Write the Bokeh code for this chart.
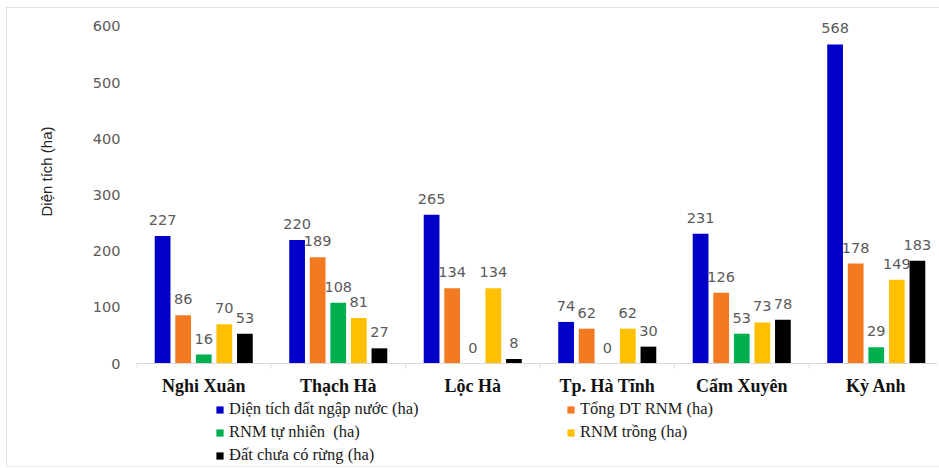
import numpy as np
from bokeh.plotting import figure
from bokeh.models import (ColumnDataSource, Range1d, FixedTicker, Legend,
                          LegendItem, LabelSet, Span, Title)
from bokeh.core.properties import value
from bokeh.transform import dodge
from bokeh.embed import file_html
from bokeh.resources import INLINE

# Districts of Ha Tinh province
districts = ["Nghi Xuân", "Thạch Hà", "Lộc Hà", "Tp. Hà Tĩnh", "Cẩm Xuyên", "Kỳ Anh"]

# Area figures (ha) per district
wetland_area = [227, 220, 265, 74, 231, 568]
mangrove_total = [86, 189, 134, 62, 126, 178]
mangrove_natural = [16, 108, 0, 0, 53, 29]
mangrove_planted = [70, 81, 134, 62, 73, 149]
land_without_forest = [53, 27, 8, 30, 78, 183]

series_labels = [
    "Diện tích đất ngập nước (ha)",
    "Tổng DT RNM (ha)",
    "RNM tự nhiên  (ha)",
    "RNM trồng (ha)",
    "Đất chưa có rừng (ha)",
]
series_values = [wetland_area, mangrove_total, mangrove_natural,
                 mangrove_planted, land_without_forest]
series_colors = ["#0000c8", "#f47a22", "#00b04f", "#ffc000", "#000000"]

y_ticks = [0, 100, 200, 300, 400, 500, 600]

# geometry
WIDTH, HEIGHT = 939, 468
LEFT, RIGHT, TOP = 136, 2, 15
AXIS_Y_PX = 363            # pixel row of the value 0
Y_MAX = 619.5              # value at the top of the plotting area
CAT_PX = 134.5             # pixel width of one district group
BAR_STEP = 0.153           # spacing of bars inside a group (category units)
BAR_WIDTH = 0.117

px_per_unit = (AXIS_Y_PX - TOP) / Y_MAX
y_min = -(HEIGHT - AXIS_Y_PX) / px_per_unit
x_max = (WIDTH - LEFT - RIGHT) / CAT_PX

centers = [i + 0.5 for i in range(len(districts))]
boundaries = [float(i) for i in range(len(districts) + 1)]

p = figure(
    width=WIDTH, height=HEIGHT,
    x_range=Range1d(0, x_max), y_range=Range1d(y_min, Y_MAX),
    output_backend="svg", toolbar_location=None,
    min_border_left=LEFT, min_border_right=RIGHT,
    min_border_top=TOP, min_border_bottom=0,
    x_axis_location=None,
)
p.border_fill_color = None
p.background_fill_color = None
p.outline_line_color = None
p.xgrid.grid_line_color = None
p.ygrid.grid_line_color = None

# faint frame around the whole figure
p.styles = {
    "background": (
        "linear-gradient(#e2e2e2,#e2e2e2) 6px 7px / 1px 460px no-repeat, "
        "linear-gradient(#e2e2e2,#e2e2e2) 6px 7px / 933px 1px no-repeat, "
        "linear-gradient(#ececec,#ececec) 6px 466px / 933px 1px no-repeat, "
        "#ffffff"
    )
}

# category axis: base line, boundary ticks and district names
p.add_layout(Span(location=0, dimension="width", line_color="#d9d9d9", line_width=1))
tick_len = 5 / px_per_unit
p.segment(x0=boundaries, x1=boundaries, y0=[0] * len(boundaries),
          y1=[-tick_len] * len(boundaries), line_color="#d9d9d9", line_width=1)
cat_src = ColumnDataSource(dict(x=centers, y=[0] * len(centers), text=districts))
p.add_layout(LabelSet(
    x="x", y="y", text="text", source=cat_src, y_offset=-28,
    text_align="center", text_baseline="alphabetic",
    text_font=value("Liberation Serif"), text_font_style="bold",
    text_font_size=value("18px"), text_color="#111111",
))

renderers = []
for k, (label, vals, color) in enumerate(zip(series_labels, series_values, series_colors)):
    offset = (k - 2) * BAR_STEP
    src = ColumnDataSource(dict(
        x=centers,
        top=vals,
        text=[str(v) for v in vals],
    ))
    r = p.vbar(x=dodge("x", offset, range=p.x_range), top="top", width=BAR_WIDTH,
               source=src, fill_color=color, line_color=None)
    renderers.append(r)
    p.add_layout(LabelSet(
        x=dodge("x", offset, range=p.x_range), y="top", text="text", source=src,
        y_offset=11, text_align="center", text_baseline="alphabetic",
        text_font=value("DejaVu Sans"), text_font_size=value("14.5px"),
        text_color="#5a5a5a",
    ))

# value axis
ya = p.yaxis[0]
ya.ticker = FixedTicker(ticks=y_ticks)
ya.axis_line_color = None
ya.major_tick_line_color = None
ya.minor_tick_line_color = None
ya.major_tick_out = 0
ya.minor_tick_out = 0
ya.major_label_standoff = 16
ya.major_label_text_font = "DejaVu Sans"
ya.major_label_text_font_size = "14.5px"
ya.major_label_text_color = "#5a5a5a"

# axis title, positioned along the value scale
y_title = Title(
    text="Diện tích (ha)", align="left", offset=HEIGHT - 216, standoff=69,
    text_font="Liberation Sans", text_font_style="normal",
    text_font_size="15px", text_color="#222222",
)
p.add_layout(y_title, "left")

# legend in two columns under the chart
def make_legend(idx, loc):
    lg = Legend(
        items=[LegendItem(label=series_labels[i], renderers=[renderers[i]]) for i in idx],
        location=loc, orientation="vertical",
        glyph_width=9, glyph_height=9, label_standoff=5,
        label_height=20, spacing=3, padding=0, margin=0,
        border_line_color=None, background_fill_color=None, background_fill_alpha=0,
        label_text_font="Liberation Serif", label_text_font_size="16.5px",
        label_text_color="#1a1a1a",
    )
    p.add_layout(lg, "center")
    return lg

make_legend([0, 2, 4], (215 - LEFT, 3))
make_legend([1, 3], (566 - LEFT, 26))

open("out.html", "w").write(file_html(p, INLINE))
